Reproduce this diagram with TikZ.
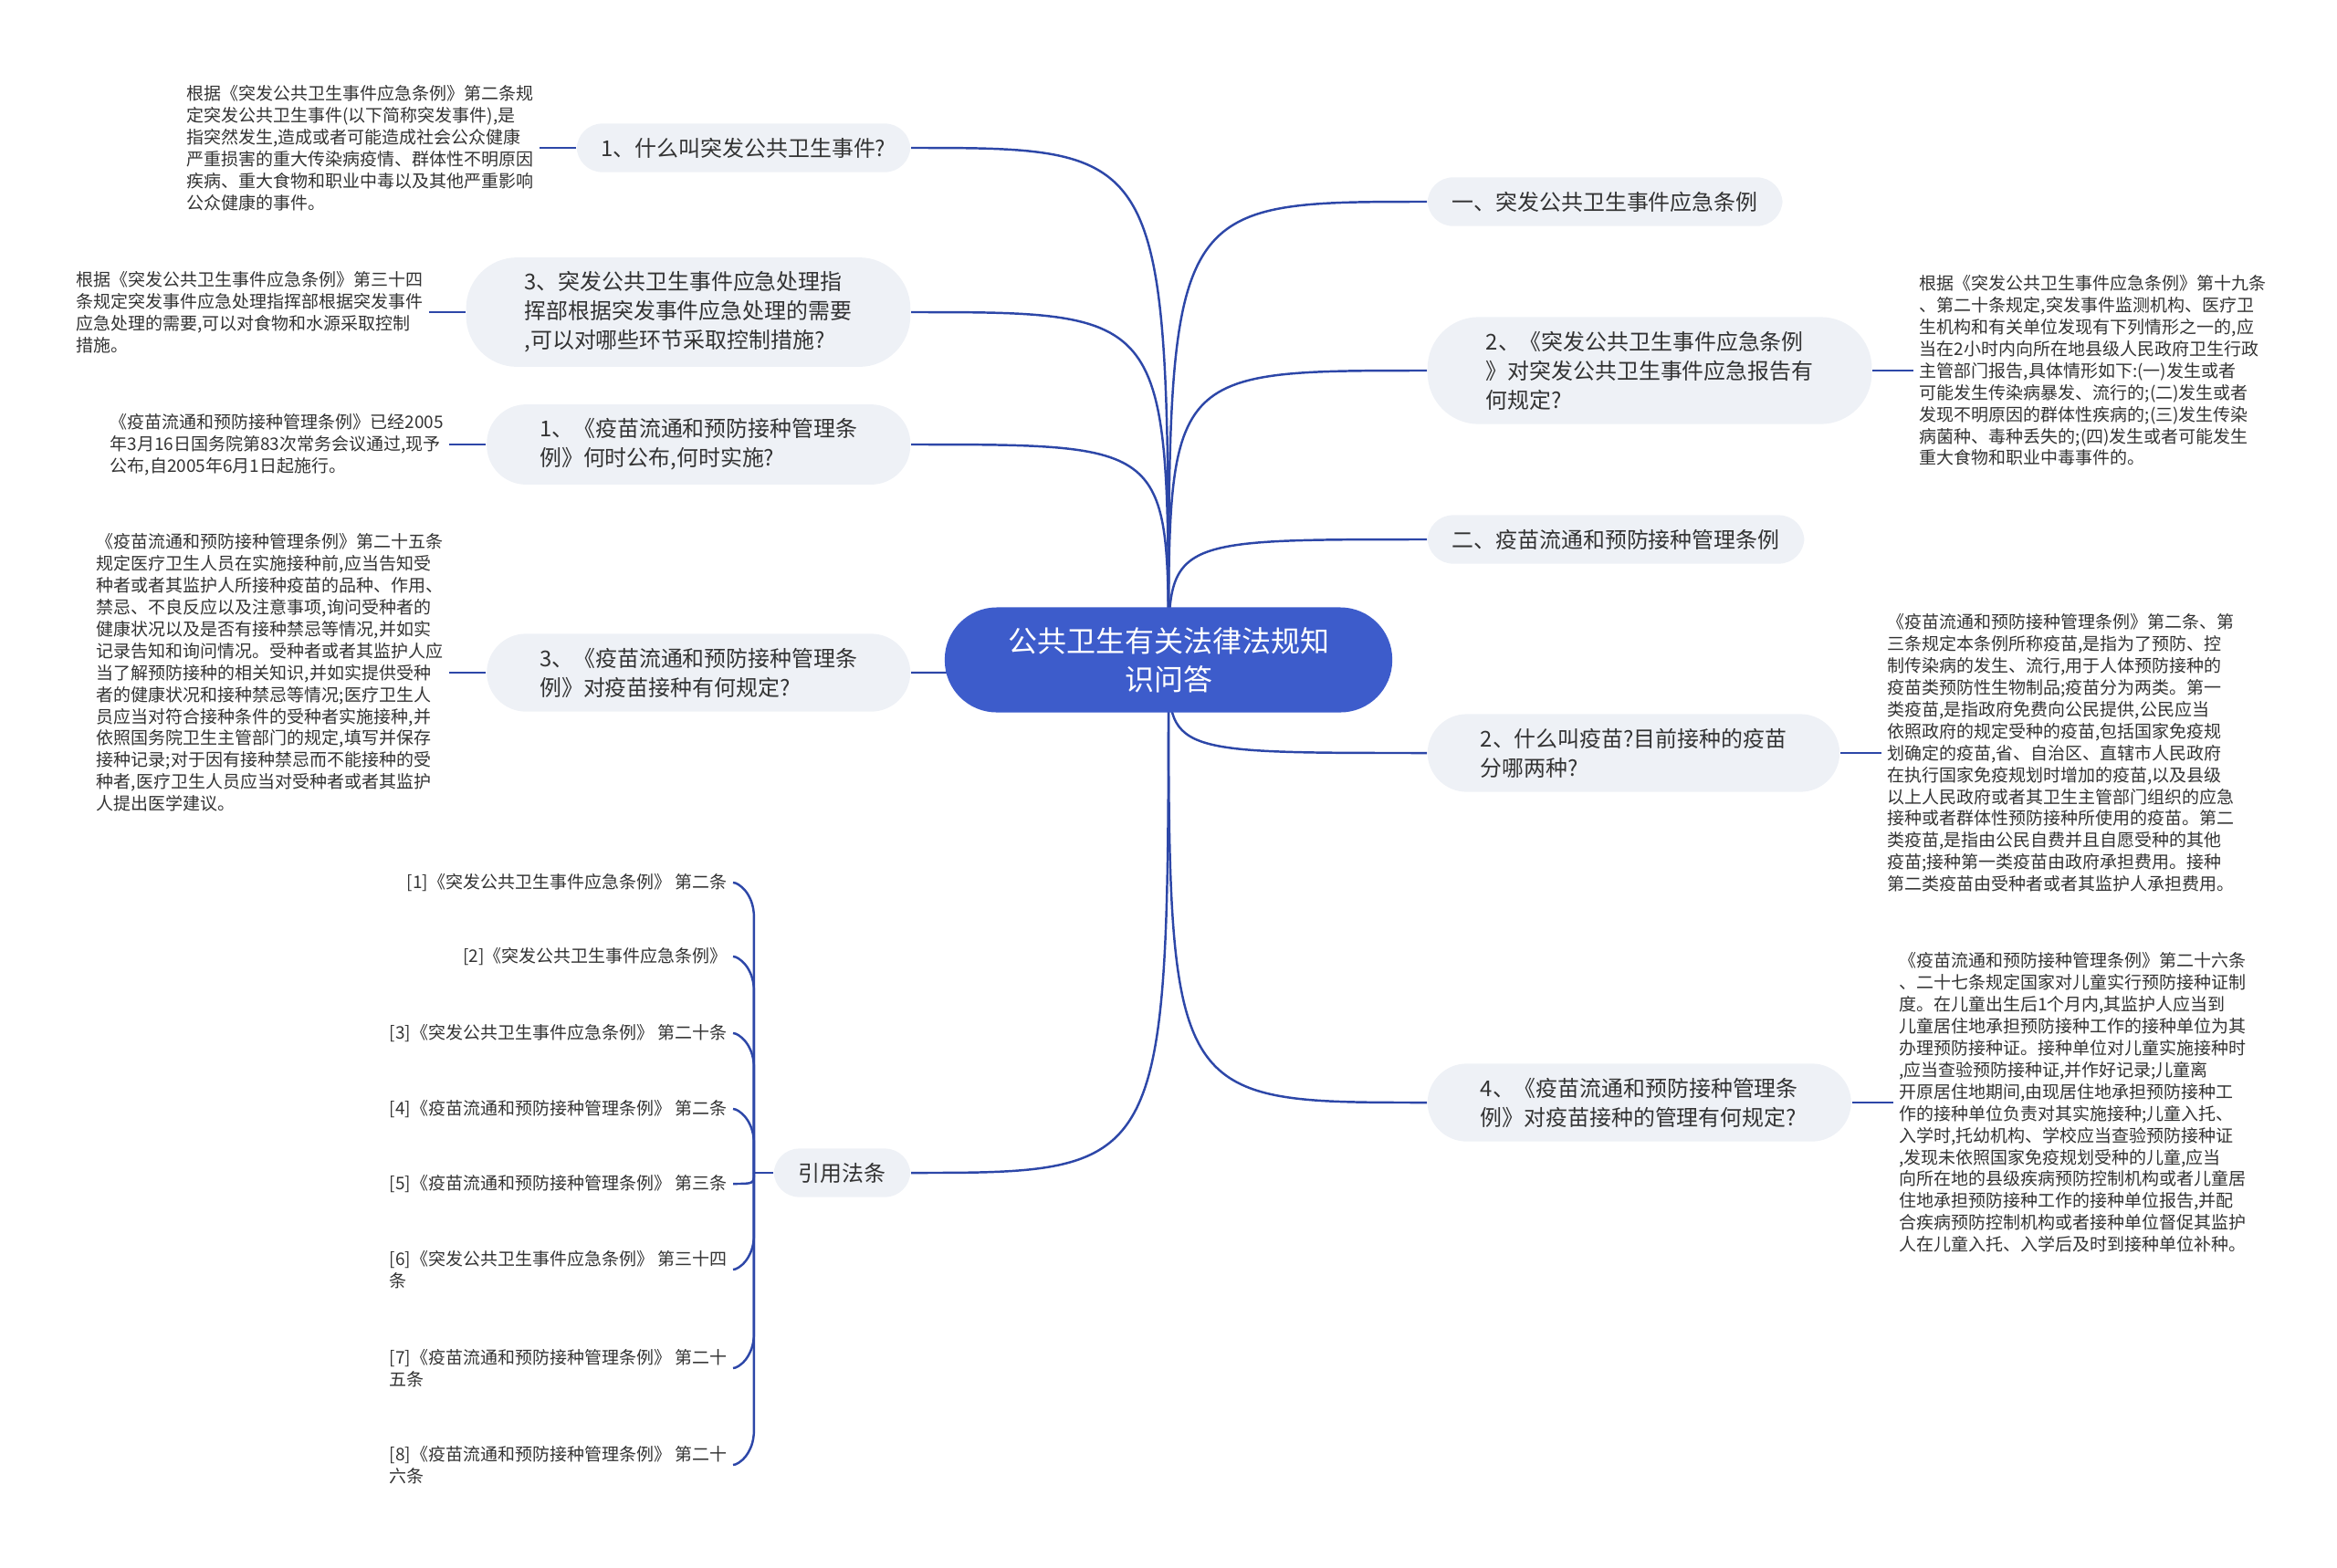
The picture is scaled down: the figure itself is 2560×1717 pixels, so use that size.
\documentclass[tikz,border=0pt]{standalone}
\usepackage{fontspec}
\setmainfont{Noto Sans CJK SC}
\usepackage{xcolor}
\usepackage{tikz}
\usetikzlibrary{positioning, calc, backgrounds}
\definecolor{rootblue}{HTML}{3D5CCB}
\definecolor{linkblue}{HTML}{2D47A8}
\definecolor{topicgray}{HTML}{EEF1F6}
\definecolor{textgray}{HTML}{333333}

\begin{document}
\begin{tikzpicture}[
  x=0.01cm, y=-0.01cm,
  root/.style={fill=rootblue, text=white, rounded corners=0.57cm, minimum width=4.9cm, minimum height=1.15cm, align=center, font=\fontsize{9.1}{12}\selectfont},
  topic/.style={fill=topicgray, text=textgray, rounded corners=0.28cm, inner xsep=0.27cm, inner ysep=0.155cm, align=left, font=\fontsize{6.8}{9.1}\selectfont},
  topictwo/.style={topic, inner xsep=0.58cm, rounded corners=0.43cm},
  topicthree/.style={topic, inner xsep=0.64cm, rounded corners=0.56cm},
  notebox/.style={text=textgray, inner sep=0.06cm, align=left, font=\fontsize{5.4}{6.8}\selectfont},
  citeitem/.style={notebox, anchor=east},
  link/.style={draw=linkblue, line width=0.7pt}
]
\useasboundingbox (0,0) rectangle (2560,1717);
% centre topic
\node[root] (root) at (1280,723) {公共卫生有关法律法规知\\识问答};
% left side questions
\node[topic, anchor=east] (evt) at (998,162) {1、什么叫突发公共卫生事件?};
\node[topicthree, anchor=east] (ctrl) at (998,342) {3、突发公共卫生事件应急处理指\\挥部根据突发事件应急处理的需要\\,可以对哪些环节采取控制措施?};
\node[topictwo, anchor=east] (vtime) at (998,487) {1、《疫苗流通和预防接种管理条\\例》何时公布,何时实施?};
\node[topictwo, anchor=east] (vrule) at (998,737) {3、《疫苗流通和预防接种管理条\\例》对疫苗接种有何规定?};
\node[topic, anchor=east] (cite) at (998,1285) {引用法条};
% right side questions
\node[topic, anchor=west] (law1) at (1563,221) {一、突发公共卫生事件应急条例};
\node[topicthree, anchor=west] (report) at (1563,406) {2、《突发公共卫生事件应急条例\\》对突发公共卫生事件应急报告有\\何规定?};
\node[topic, anchor=west] (law2) at (1563,591) {二、疫苗流通和预防接种管理条例};
\node[topictwo, anchor=west] (vkind) at (1563,825) {2、什么叫疫苗?目前接种的疫苗\\分哪两种?};
\node[topictwo, anchor=west] (vmanage) at (1563,1208) {4、《疫苗流通和预防接种管理条\\例》对疫苗接种的管理有何规定?};
% answers
\node[notebox, left=0.4cm of evt] (evtnote) {根据《突发公共卫生事件应急条例》第二条规\\定突发公共卫生事件(以下简称突发事件),是\\指突然发生,造成或者可能造成社会公众健康\\严重损害的重大传染病疫情、群体性不明原因\\疾病、重大食物和职业中毒以及其他严重影响\\公众健康的事件。};
\node[notebox, left=0.4cm of ctrl] (ctrlnote) {根据《突发公共卫生事件应急条例》第三十四\\条规定突发事件应急处理指挥部根据突发事件\\应急处理的需要,可以对食物和水源采取控制\\措施。};
\node[notebox, left=0.4cm of vtime] (vtimenote) {《疫苗流通和预防接种管理条例》已经2005\\年3月16日国务院第83次常务会议通过,现予\\公布,自2005年6月1日起施行。};
\node[notebox, left=0.4cm of vrule] (vrulenote) {《疫苗流通和预防接种管理条例》第二十五条\\规定医疗卫生人员在实施接种前,应当告知受\\种者或者其监护人所接种疫苗的品种、作用、\\禁忌、不良反应以及注意事项,询问受种者的\\健康状况以及是否有接种禁忌等情况,并如实\\记录告知和询问情况。受种者或者其监护人应\\当了解预防接种的相关知识,并如实提供受种\\者的健康状况和接种禁忌等情况;医疗卫生人\\员应当对符合接种条件的受种者实施接种,并\\依照国务院卫生主管部门的规定,填写并保存\\接种记录;对于因有接种禁忌而不能接种的受\\种者,医疗卫生人员应当对受种者或者其监护\\人提出医学建议。};
\node[notebox, right=0.45cm of report] (reportnote) {根据《突发公共卫生事件应急条例》第十九条\\、第二十条规定,突发事件监测机构、医疗卫\\生机构和有关单位发现有下列情形之一的,应\\当在2小时内向所在地县级人民政府卫生行政\\主管部门报告,具体情形如下:(一)发生或者\\可能发生传染病暴发、流行的;(二)发生或者\\发现不明原因的群体性疾病的;(三)发生传染\\病菌种、毒种丢失的;(四)发生或者可能发生\\重大食物和职业中毒事件的。};
\node[notebox, right=0.45cm of vkind] (vkindnote) {《疫苗流通和预防接种管理条例》第二条、第\\三条规定本条例所称疫苗,是指为了预防、控\\制传染病的发生、流行,用于人体预防接种的\\疫苗类预防性生物制品;疫苗分为两类。第一\\类疫苗,是指政府免费向公民提供,公民应当\\依照政府的规定受种的疫苗,包括国家免疫规\\划确定的疫苗,省、自治区、直辖市人民政府\\在执行国家免疫规划时增加的疫苗,以及县级\\以上人民政府或者其卫生主管部门组织的应急\\接种或者群体性预防接种所使用的疫苗。第二\\类疫苗,是指由公民自费并且自愿受种的其他\\疫苗;接种第一类疫苗由政府承担费用。接种\\第二类疫苗由受种者或者其监护人承担费用。};
\node[notebox, right=0.45cm of vmanage] (vmanagenote) {《疫苗流通和预防接种管理条例》第二十六条\\、二十七条规定国家对儿童实行预防接种证制\\度。在儿童出生后1个月内,其监护人应当到\\儿童居住地承担预防接种工作的接种单位为其\\办理预防接种证。接种单位对儿童实施接种时\\,应当查验预防接种证,并作好记录;儿童离\\开原居住地期间,由现居住地承担预防接种工\\作的接种单位负责对其实施接种;儿童入托、\\入学时,托幼机构、学校应当查验预防接种证\\,发现未依照国家免疫规划受种的儿童,应当\\向所在地的县级疾病预防控制机构或者儿童居\\住地承担预防接种工作的接种单位报告,并配\\合疾病预防控制机构或者接种单位督促其监护\\人在儿童入托、入学后及时到接种单位补种。};
% cited articles
\node[citeitem] (ref1) at (803,967) {[1]《突发公共卫生事件应急条例》 第二条};
\node[citeitem] (ref2) at (803,1048) {[2]《突发公共卫生事件应急条例》};
\node[citeitem] (ref3) at (803,1132) {[3]《突发公共卫生事件应急条例》 第二十条};
\node[citeitem] (ref4) at (803,1215) {[4]《疫苗流通和预防接种管理条例》 第二条};
\node[citeitem] (ref5) at (803,1297) {[5]《疫苗流通和预防接种管理条例》 第三条};
\node[citeitem] (ref6) at (803,1391) {[6]《突发公共卫生事件应急条例》 第三十四\\条};
\node[citeitem] (ref7) at (803,1499) {[7]《疫苗流通和预防接种管理条例》 第二十\\五条};
\node[citeitem] (ref8) at (803,1605) {[8]《疫苗流通和预防接种管理条例》 第二十\\六条};
% branches from the centre, behind the nodes
\begin{scope}[on background layer]
\foreach \t in {evt, ctrl, vtime, vrule, cite}
  \draw[link] (root.center) .. controls (root.center |- \t.east) .. (\t.east);
\foreach \t in {law1, report, law2, vkind, vmanage}
  \draw[link] (root.center) .. controls (root.center |- \t.west) .. (\t.west);
\end{scope}
% answers hang off their questions
\draw[link] (evtnote) -- (evt);
\draw[link] (ctrlnote) -- (ctrl);
\draw[link] (vtimenote) -- (vtime);
\draw[link] (vrulenote) -- (vrule);
\draw[link] (report) -- (reportnote);
\draw[link] (vkind) -- (vkindnote);
\draw[link] (vmanage) -- (vmanagenote);
% brace to the cited articles
\coordinate (bj) at ($(cite.west)+(-21,0)$);
\draw[link] (cite) -- (bj);
\foreach \c/\s in {ref1/1, ref2/1, ref3/1, ref4/1, ref6/-1, ref7/-1, ref8/-1}
  \draw[link] (bj) -- ($(bj |- \c.east)+(0,\s*38)$) .. controls ($(bj |- \c.east)+(0,\s*12)$) and ($(\c.east)+(6,0)$) .. (\c.east);
\draw[link] (bj) .. controls (bj |- ref5.east) .. (ref5.east);
\end{tikzpicture}
\end{document}
